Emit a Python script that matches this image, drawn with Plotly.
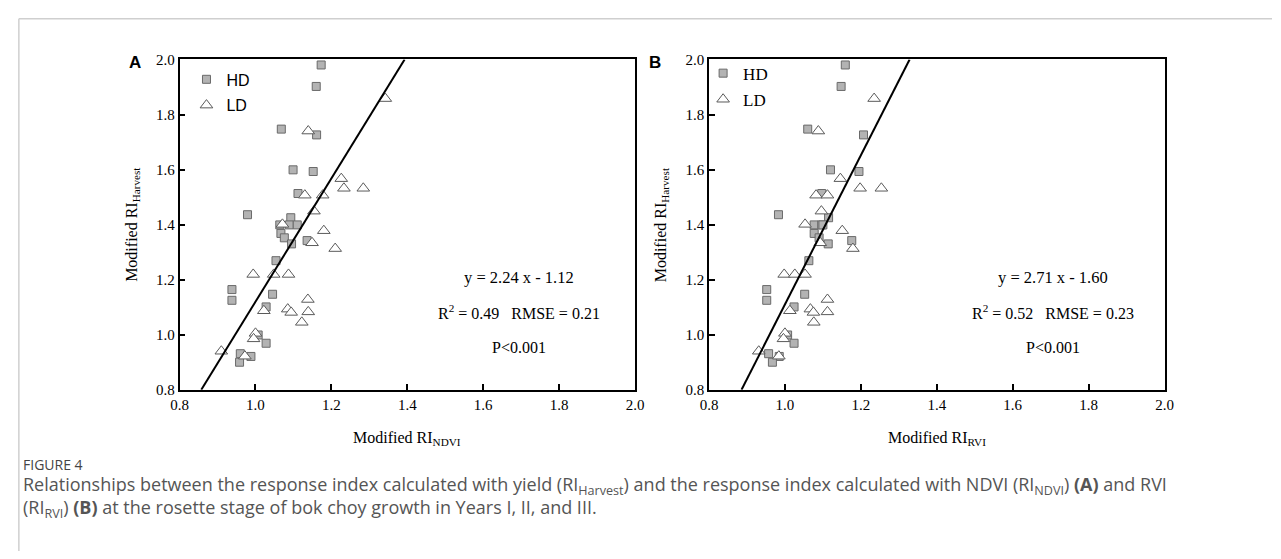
import plotly.graph_objects as go

W, H = 1281, 559

# ---------------- data ----------------
hd_a_x = [1.173, 1.160, 1.068, 1.161, 1.099, 1.152, 1.112, 0.979, 1.093, 1.064, 1.089, 1.110, 1.067,
          1.076, 1.095, 1.136, 1.054, 0.938, 0.938, 1.045, 1.028, 1.007, 1.028, 0.960, 0.988, 0.958]
hd_y = [1.980, 1.902, 1.747, 1.726, 1.599, 1.593, 1.513, 1.436, 1.425, 1.399, 1.399, 1.399, 1.368,
        1.352, 1.330, 1.342, 1.269, 1.164, 1.125, 1.147, 1.101, 0.999, 0.969, 0.931, 0.921, 0.900]
ld_a_x = [1.342, 1.139, 1.226, 1.233, 1.284, 1.130, 1.177, 1.154, 1.071, 1.180, 1.149, 1.210, 0.994,
          1.048, 1.087, 1.022, 1.085, 1.094, 1.138, 1.139, 1.122, 1.000, 0.995, 0.972, 0.910]
ld_y = [1.858, 1.740, 1.567, 1.532, 1.532, 1.507, 1.507, 1.449, 1.401, 1.378, 1.334, 1.313, 1.219,
        1.219, 1.219, 1.087, 1.093, 1.081, 1.128, 1.083, 1.045, 1.005, 0.985, 0.922, 0.940]

hd_b_x = [1.159, 1.148, 1.060, 1.207, 1.120, 1.195, 1.097, 0.983, 1.115, 1.077, 1.097, 1.100, 1.077,
          1.090, 1.114, 1.176, 1.063, 0.952, 0.952, 1.052, 1.024, 1.007, 1.024, 0.957, 0.985, 0.967]
ld_b_x = [1.235, 1.088, 1.146, 1.198, 1.254, 1.082, 1.112, 1.096, 1.053, 1.151, 1.093, 1.179, 0.998,
          1.026, 1.053, 1.013, 1.067, 1.075, 1.112, 1.112, 1.076, 1.000, 0.996, 0.984, 0.931]

fit_a = (2.24, -1.12)
fit_b = (2.71, -1.60)
axis_range = [0.8, 2.0]
tick_vals = [0.8, 1.0, 1.2, 1.4, 1.6, 1.8, 2.0]
tick_text = ["0.8", "1.0", "1.2", "1.4", "1.6", "1.8", "2.0"]

stats_a = ["y = 2.24 x - 1.12", "R<sup>2</sup> = 0.49\u00a0\u00a0\u00a0RMSE = 0.21", "P<0.001"]
stats_b = ["y = 2.71 x - 1.60", "R<sup>2</sup> = 0.52\u00a0\u00a0\u00a0RMSE = 0.23", "P<0.001"]

caption_title = "FIGURE 4"
caption_lines = [
    "Relationships between the response index calculated with yield (RI<sub>Harvest</sub>) and the response index calculated with NDVI (RI<sub>NDVI</sub>) <b>(A)</b> and RVI",
    "(RI<sub>RVI</sub>) <b>(B)</b> at the rosette stage of bok choy growth in Years I, II, and III.",
]

# ---------------- helpers ----------------
def px(x):
    return x / W

def py(y):
    return 1 - y / H

SERIF = "Liberation Serif"
SANS = "Liberation Sans"

hd_marker = dict(symbol="square", size=8, color="#b3b3b3", line=dict(color="#6a6a6a", width=1))
ld_marker = dict(symbol="triangle-up", size=11, color="white", line=dict(color="#5a5a5a", width=1))

def fit_line(fit):
    m, b = fit
    ys = axis_range
    xs = [(y - b) / m for y in ys]
    return xs, ys

fig = go.Figure()

# Panel A
fig.add_trace(go.Scatter(x=hd_a_x, y=hd_y, mode="markers", marker=hd_marker, name="HD",
                         xaxis="x", yaxis="y", legend="legend", legendgroup="a1"))
fig.add_trace(go.Scatter(x=ld_a_x, y=ld_y, mode="markers", marker=ld_marker, name="LD",
                         xaxis="x", yaxis="y", legend="legend", legendgroup="a2"))
lx, ly = fit_line(fit_a)
fig.add_trace(go.Scatter(x=lx, y=ly, mode="lines", line=dict(color="black", width=2),
                         xaxis="x", yaxis="y", showlegend=False))

# Panel B
fig.add_trace(go.Scatter(x=hd_b_x, y=hd_y, mode="markers", marker=hd_marker, name="HD",
                         xaxis="x2", yaxis="y2", legend="legend2", legendgroup="b1"))
fig.add_trace(go.Scatter(x=ld_b_x, y=ld_y, mode="markers", marker=ld_marker, name="LD",
                         xaxis="x2", yaxis="y2", legend="legend2", legendgroup="b2"))
lx, ly = fit_line(fit_b)
fig.add_trace(go.Scatter(x=lx, y=ly, mode="lines", line=dict(color="black", width=2),
                         xaxis="x2", yaxis="y2", showlegend=False))

ax_common = dict(range=axis_range, tickvals=tick_vals, ticktext=tick_text, ticks="inside", ticklen=6,
                 tickwidth=1.5, tickcolor="black", showline=True, linecolor="black", linewidth=1.5,
                 mirror=True, showgrid=False, zeroline=False,
                 tickfont=dict(family=SERIF, size=15, color="black"))

ydom = [py(393), py(53)]
fig.update_layout(
    width=W, height=H, autosize=False,
    margin=dict(l=0, r=0, t=0, b=0),
    paper_bgcolor="white", plot_bgcolor="white",
    xaxis=dict(domain=[px(173), px(635)], anchor="y", **ax_common),
    yaxis=dict(domain=ydom, anchor="x", **ax_common),
    xaxis2=dict(domain=[px(710), px(1172)], anchor="y2", **ax_common),
    yaxis2=dict(domain=ydom, anchor="x2", **ax_common),
    legend=dict(x=px(180), y=py(56), xanchor="left", yanchor="top", bgcolor="rgba(0,0,0,0)",
                font=dict(family=SANS, size=16, color="black"), tracegroupgap=2, itemclick=False),
    legend2=dict(x=px(704), y=py(49), xanchor="left", yanchor="top", bgcolor="rgba(0,0,0,0)",
                 font=dict(family=SERIF, size=17, color="black"), tracegroupgap=1, itemclick=False),
)

def note(text, x, y, size, family, color="black", xanchor="center", angle=0):
    return dict(text=text, x=px(x), y=py(y), xref="paper", yref="paper", showarrow=False,
                xanchor=xanchor, yanchor="middle", textangle=angle,
                font=dict(family=family, size=size, color=color))

ann = []
# panel letters
ann.append(note("<b>A</b>", 128, 56, 17, SANS))
ann.append(note("<b>B</b>", 655, 56, 17, SANS))
# axis titles
ann.append(note("Modified RI<sub>NDVI</sub>", 404, 443, 16, SERIF))
ann.append(note("Modified RI<sub>RVI</sub>", 941, 443, 16, SERIF))
for cx in [125, 662]:
    ann.append(note("Modified RI<sub>Harvest</sub>", cx, 223, 16, SERIF, angle=-90))
# stats
for cx, lines in [(517, stats_a), (1059, stats_b)]:
    for yy, t, sz in zip([277, 313, 350], lines, [16.5, 16, 16]):
        ann.append(note(t, cx, yy, sz, SERIF))
# caption
ann.append(note(caption_title, 12, 470, 14, "Open Sans", color="#444444", xanchor="left"))
for yy, t in zip([492, 515], caption_lines):
    ann.append(note(t, 12, yy, 18, "Open Sans", color="#555555", xanchor="left"))
fig.update_layout(annotations=ann)

# page frame lines
fig.update_layout(shapes=[
    dict(type="line", xref="paper", yref="paper", x0=px(10), x1=1, y0=py(11), y1=py(11),
         line=dict(color="#cfcfcf", width=1.5)),
    dict(type="line", xref="paper", yref="paper", x0=px(10), x1=px(10), y0=py(11), y1=0,
         line=dict(color="#cfcfcf", width=1.5)),
])

fig.write_html("out.html", config={"displayModeBar": False},
               post_script="document.body.style.margin='0';document.body.style.overflow='hidden';")
